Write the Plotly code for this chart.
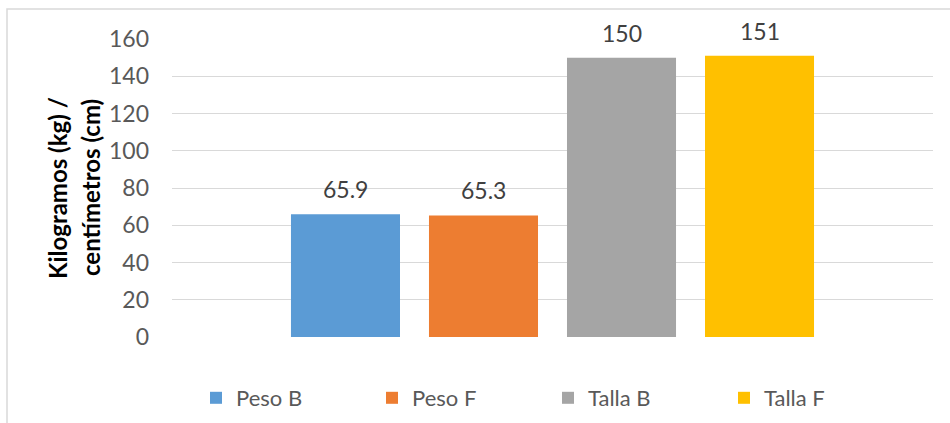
import plotly.graph_objects as go

# Series names, values and colours
series = ["Peso B", "Peso F", "Talla B", "Talla F"]
values = [65.9, 65.3, 150, 151]
colors = ["#5B9BD5", "#ED7D31", "#A5A5A5", "#FFC000"]
labels = ["65.9", "65.3", "150", "151"]

y_ticks = [0, 20, 40, 60, 80, 100, 120, 140, 160]

FONT = "Lato"
W, H = 950, 423
ML, MR, MT, MB = 172, 17, 39, 86

fig = go.Figure()
for name, val, col in zip(series, values, colors):
    fig.add_trace(go.Bar(
        x=[name], y=[val], name=name, width=0.79,
        marker=dict(color=col, line=dict(width=0)),
        hoverinfo="name+y",
    ))

# Data labels above each bar
annotations = []
for name, val, lab in zip(series, values, labels):
    annotations.append(dict(
        x=name, y=val, xref="x", yref="y", text=lab, showarrow=False,
        yanchor="middle", yshift=25,
        font=dict(family=FONT, size=23, color="#404040"),
    ))

# Two-line rotated axis title
pw = W - ML - MR
for txt, px in [("Kilogramos (kg) /", 57), ("centímetros (cm)", 90)]:
    annotations.append(dict(
        x=(px - ML) / pw, y=0.5, xref="paper", yref="paper", text=f"<b>{txt}</b>",
        showarrow=False, textangle=-90, xanchor="center", yanchor="middle",
        font=dict(family=FONT, size=24, color="#000000"),
    ))

ph = H - MT - MB
fig.update_layout(
    width=W, height=H,
    margin=dict(l=ML, r=MR, t=MT, b=MB),
    paper_bgcolor="white", plot_bgcolor="white",
    barmode="overlay",
    showlegend=True,
    legend=dict(
        orientation="h", xref="container", yref="container",
        x=196 / W, xanchor="left",
        y=1 - 398 / H, yanchor="middle",
        entrywidth=131, entrywidthmode="pixels",
        font=dict(family=FONT, size=22, color="#595959"),
        bgcolor="rgba(0,0,0,0)", traceorder="normal",
    ),
    xaxis=dict(
        range=[-1.257, 4.257], showticklabels=False, showgrid=False,
        zeroline=False, showline=False, fixedrange=True,
    ),
    yaxis=dict(
        range=[0, 160], tickvals=y_ticks, ticktext=[str(v) for v in y_ticks],
        showgrid=True, gridcolor="#D9D9D9", gridwidth=1.3,
        zeroline=False, showline=False, ticks="",
        ticklabelstandoff=22,
        tickfont=dict(family=FONT, size=23, color="#595959"),
    ),
    annotations=annotations,
    shapes=[dict(
        type="rect", xref="paper", yref="paper",
        x0=(7 - ML) / pw, x1=(960 - ML) / pw,
        y0=(MT + ph - 430) / ph, y1=(MT + ph - 9) / ph,
        line=dict(color="#D9D9D9", width=1.5), fillcolor="rgba(0,0,0,0)",
        layer="below",
    )],
)

fig.write_html("out.html")
